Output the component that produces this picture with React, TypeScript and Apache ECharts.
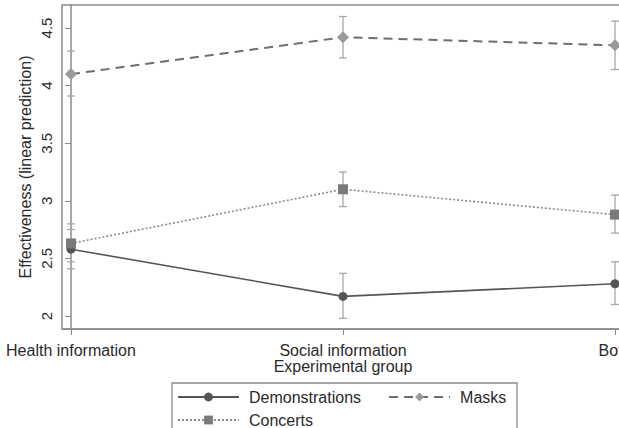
import React, { useEffect, useRef } from "react";
import * as echarts from "echarts";

const categories = ["Health information", "Social information", "Both"];
const yTicks = [2, 2.5, 3, 3.5, 4, 4.5];

const demonstrations = [2.58, 2.17, 2.28];
const demonstrationsLow = [2.41, 1.98, 2.1];
const demonstrationsHigh = [2.75, 2.37, 2.47];

const masks = [4.1, 4.42, 4.35];
const masksLow = [3.91, 4.24, 4.14];
const masksHigh = [4.3, 4.6, 4.56];

const concerts = [2.63, 3.1, 2.88];
const concertsLow = [2.47, 2.95, 2.72];
const concertsHigh = [2.8, 3.25, 3.05];

const FONT = "Liberation Sans, Arial, sans-serif";
const TEXT = "#2a2a2a";

function errorSeries(name: string, low: number[], high: number[]) {
  const data = low.map((l, i) => [i, l, high[i]]);
  return {
    name: name + " CI",
    type: "custom",
    z: 1,
    silent: true,
    data,
    renderItem: (params: any, api: any) => {
      const x = api.value(0);
      const lo = api.coord([x, api.value(1)]);
      const hi = api.coord([x, api.value(2)]);
      const cap = 4;
      const style = { stroke: "#a8a8a8", lineWidth: 1.3, fill: "none" };
      return {
        type: "group",
        children: [
          { type: "line", shape: { x1: lo[0], y1: lo[1], x2: hi[0], y2: hi[1] }, style },
          { type: "line", shape: { x1: lo[0] - cap, y1: lo[1], x2: lo[0] + cap, y2: lo[1] }, style },
          { type: "line", shape: { x1: hi[0] - cap, y1: hi[1], x2: hi[0] + cap, y2: hi[1] }, style },
        ],
      };
    },
  };
}

export default function App() {
  const ref = useRef<HTMLDivElement>(null);
  useEffect(() => {
    if (!ref.current) return;
    const chart = echarts.init(ref.current, undefined, { renderer: "svg" });
    const pts = (arr: number[]) => arr.map((v, i) => [i, v]);
    chart.setOption({
      animation: false,
      backgroundColor: "#ffffff",
      grid: {
        left: 62,
        top: 5,
        right: 16,
        bottom: 99,
        show: true,
        borderColor: "#8a8a8a",
        borderWidth: 1.5,
        backgroundColor: "#ffffff",
      },
      xAxis: {
        type: "value",
        min: -0.033,
        max: 2.033,
        name: "Experimental group",
        nameLocation: "middle",
        nameGap: 29,
        nameMoveOverlap: false,
        nameTextStyle: { fontFamily: FONT, fontSize: 16, color: TEXT },
        splitLine: { show: false },
        axisLine: { show: true, lineStyle: { color: "#8a8a8a", width: 1.5 } },
        axisTick: { show: true, customValues: [0, 1, 2], length: 6, lineStyle: { color: "#8a8a8a", width: 1 } },
        axisLabel: {
          customValues: [0, 1, 2],
          formatter: (v: number) => categories[Math.round(v)] ?? "",
          fontFamily: FONT,
          fontSize: 16,
          color: TEXT,
          margin: 13,
        },
      },
      yAxis: {
        type: "value",
        min: 1.887,
        max: 4.7,
        name: "Effectiveness (linear prediction)",
        nameLocation: "middle",
        nameGap: 29,
        nameMoveOverlap: false,
        nameTextStyle: { fontFamily: FONT, fontSize: 16, color: TEXT },
        splitLine: { show: false },
        axisLine: { show: true, lineStyle: { color: "#8a8a8a", width: 1.5 } },
        axisTick: { show: true, customValues: yTicks, length: 6, lineStyle: { color: "#8a8a8a", width: 1 } },
        axisLabel: {
          customValues: yTicks,
          formatter: (v: number) => String(v),
          rotate: 90,
          fontFamily: FONT,
          fontSize: 15,
          color: TEXT,
          margin: 8,
        },
      },
      legend: [
        {
          data: ["Demonstrations", "Masks"],
          left: 177,
          top: 389,
          padding: 0,
          itemWidth: 61,
          itemHeight: 11,
          itemGap: 27,
          textStyle: { fontFamily: FONT, fontSize: 16, color: TEXT, padding: [0, 0, 0, 5] },
        },
        {
          data: ["Concerts"],
          left: 177,
          top: 412,
          padding: 0,
          itemWidth: 61,
          itemHeight: 11,
          itemGap: 27,
          textStyle: { fontFamily: FONT, fontSize: 16, color: TEXT, padding: [0, 0, 0, 5] },
        },
      ],
      graphic: [
        {
          type: "rect",
          shape: { x: 172, y: 383, width: 345, height: 70 },
          style: { fill: "none", stroke: "#8a8a8a", lineWidth: 1.3 },
          silent: true,
        },
      ],
      series: [
        errorSeries("Demonstrations", demonstrationsLow, demonstrationsHigh),
        errorSeries("Masks", masksLow, masksHigh),
        errorSeries("Concerts", concertsLow, concertsHigh),
        {
          name: "Demonstrations",
          type: "line",
          z: 3,
          data: pts(demonstrations),
          symbol: "circle",
          symbolSize: 9,
          itemStyle: { color: "#555555" },
          lineStyle: { color: "#555555", width: 1.6, type: "solid" },
        },
        {
          name: "Masks",
          type: "line",
          z: 3,
          data: pts(masks),
          symbol: "diamond",
          symbolSize: 12,
          itemStyle: { color: "#9a9a9a" },
          lineStyle: { color: "#6e6e6e", width: 2, type: [9, 6] },
        },
        {
          name: "Concerts",
          type: "line",
          z: 3,
          data: pts(concerts),
          symbol: "rect",
          symbolSize: 10,
          itemStyle: { color: "#7a7a7a" },
          lineStyle: { color: "#8a8a8a", width: 1.6, type: [2, 2] },
        },
      ],
    });
    return () => chart.dispose();
  }, []);
  return (
    <div style={{ position: "absolute", left: 0, top: 0, width: 619, height: 428, overflow: "hidden", background: "#fff" }}>
      <div ref={ref} style={{ width: 640, height: 428 }} />
    </div>
  );
}
